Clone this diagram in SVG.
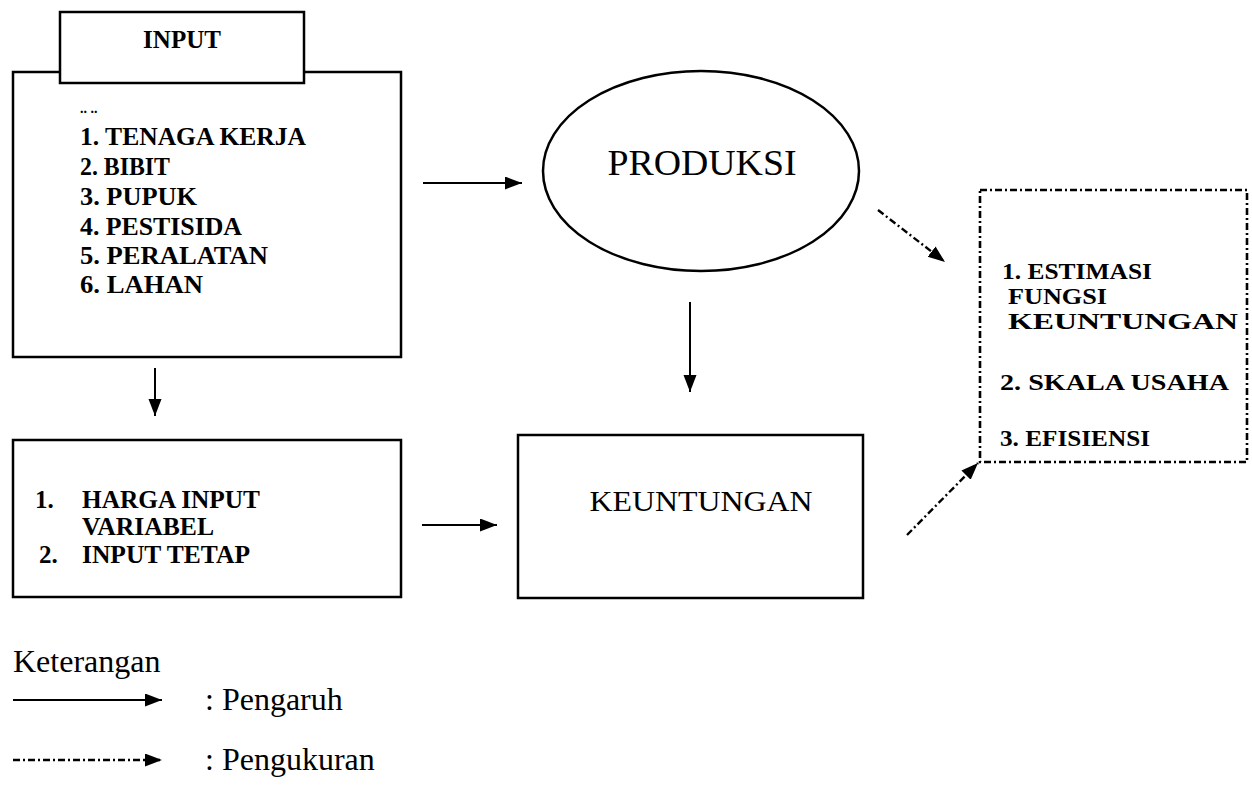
<svg xmlns="http://www.w3.org/2000/svg" width="1252" height="798" viewBox="0 0 1252 798">
<style>
.box{fill:#fff;stroke:#000;stroke-width:2.5}
.dbox{fill:none;stroke:#000;stroke-width:2.6;stroke-dasharray:7 3 2 3}
.t{font-family:"Liberation Serif","Times New Roman",serif;fill:#000}
.b{font-weight:bold;font-size:25px}
.s{font-weight:bold;font-size:24px}
.r{font-size:32px}
.con{fill:none;stroke:#000;stroke-width:2}
.dash{fill:none;stroke:#000;stroke-width:2.4;stroke-dasharray:7 3 2 3}
</style>
<defs>
<marker id="ah" markerUnits="userSpaceOnUse" markerWidth="18" markerHeight="14" refX="17" refY="6.5" orient="auto">
<path d="M0,0 L17,6.5 L0,13 z" fill="#000"/>
</marker>
</defs>
<rect width="1252" height="798" fill="#fff"/>
<g id="input">
<rect class="box" x="13" y="72" width="388" height="285"/>
<rect class="box" x="60" y="12" width="244" height="71"/>
<text class="t b" x="182" y="48" text-anchor="middle">INPUT</text>
<text class="t" x="80" y="113" font-size="14" font-weight="bold">.. ..</text>
<text class="t b" x="80" y="145" textLength="226" lengthAdjust="spacingAndGlyphs">1. TENAGA KERJA</text>
<text class="t b" x="80" y="175" textLength="90" lengthAdjust="spacingAndGlyphs">2. BIBIT</text>
<text class="t b" x="80" y="205" textLength="117" lengthAdjust="spacingAndGlyphs">3. PUPUK</text>
<text class="t b" x="80" y="235" textLength="162" lengthAdjust="spacingAndGlyphs">4. PESTISIDA</text>
<text class="t b" x="80" y="264" textLength="188" lengthAdjust="spacingAndGlyphs">5. PERALATAN</text>
<text class="t b" x="80" y="293" textLength="123" lengthAdjust="spacingAndGlyphs">6. LAHAN</text>
</g>
<g id="harga">
<rect class="box" x="13" y="440" width="388" height="157"/>
<text class="t b" x="35" y="508">1.</text>
<text class="t b" x="82" y="508" textLength="178" lengthAdjust="spacingAndGlyphs">HARGA INPUT</text>
<text class="t b" x="82" y="535" textLength="132" lengthAdjust="spacingAndGlyphs">VARIABEL</text>
<text class="t b" x="39" y="563">2.</text>
<text class="t b" x="82" y="563" textLength="168" lengthAdjust="spacingAndGlyphs">INPUT TETAP</text>
</g>
<g id="produksi">
<ellipse class="box" cx="701" cy="171" rx="158" ry="100"/>
<text class="t" x="702" y="175" font-size="35" text-anchor="middle" textLength="189" lengthAdjust="spacingAndGlyphs">PRODUKSI</text>
</g>
<g id="keuntungan">
<rect class="box" x="518" y="435" width="345" height="163"/>
<text class="t" x="701" y="511" font-size="29" text-anchor="middle" textLength="223" lengthAdjust="spacingAndGlyphs">KEUNTUNGAN</text>
</g>
<g id="hasil">
<rect class="dbox" x="980" y="190" width="267" height="272"/>
<text class="t s" x="1002" y="279" textLength="150" lengthAdjust="spacingAndGlyphs">1. ESTIMASI</text>
<text class="t s" x="1008" y="304" textLength="99" lengthAdjust="spacingAndGlyphs">FUNGSI</text>
<text class="t s" x="1008" y="329" textLength="230" lengthAdjust="spacingAndGlyphs">KEUNTUNGAN</text>
<text class="t s" x="1000" y="390" textLength="229" lengthAdjust="spacingAndGlyphs">2. SKALA USAHA</text>
<text class="t s" x="1000" y="446" textLength="150" lengthAdjust="spacingAndGlyphs">3. EFISIENSI</text>
</g>
<g id="connectors">
<line class="con" x1="423" y1="183" x2="522" y2="183" marker-end="url(#ah)"/>
<line class="con" x1="155" y1="368" x2="155" y2="416" marker-end="url(#ah)"/>
<line class="con" x1="690" y1="302" x2="690" y2="392" marker-end="url(#ah)"/>
<line class="con" x1="422" y1="525" x2="497" y2="525" marker-end="url(#ah)"/>
<line class="dash" x1="878" y1="210" x2="945" y2="262" marker-end="url(#ah)"/>
<line class="dash" x1="907" y1="535" x2="978" y2="463" marker-end="url(#ah)"/>
</g>
<g id="legend">
<text class="t r" x="13" y="672">Keterangan</text>
<line class="con" x1="13" y1="700" x2="162" y2="700" marker-end="url(#ah)"/>
<text class="t r" x="205" y="710">: Pengaruh</text>
<line class="dash" x1="13" y1="760" x2="162" y2="760" marker-end="url(#ah)"/>
<text class="t r" x="205" y="770">: Pengukuran</text>
</g>
</svg>
